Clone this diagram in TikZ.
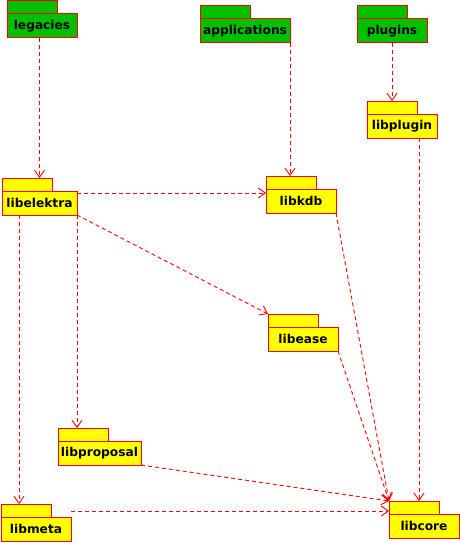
\documentclass[tikz,border=0pt]{standalone}
\usepackage{fontspec}
\setmainfont{DejaVu Sans}
\usetikzlibrary{arrows.meta}
\definecolor{pkggreen}{RGB}{0,192,0}
\definecolor{pkgyellow}{RGB}{255,255,0}
\definecolor{pkgred}{RGB}{255,0,0}
\tikzset{
  tabbox/.style={draw=pkgred, line width=1pt, anchor=north west, minimum width=50pt, minimum height=13pt, inner sep=0pt, outer sep=0pt},
  bodybox/.style={draw=pkgred, line width=1pt, anchor=north west, minimum height=24pt, inner sep=0pt, outer sep=0pt, font=\fontsize{12.2}{14}\selectfont\bfseries},
  dep/.style={draw=pkgred, line width=0.9pt, dash pattern=on 4pt off 3pt, -{Straight Barb[length=7pt,width=10pt]}}
}
\newcommand\pkgnode[6]{%
  \node[tabbox, fill=#5] (#1-tab) at (#2,#3) {};
  \node[bodybox, fill=#5, minimum width=#4pt] (#1) at (#2,#3+13) {#6};
}
\begin{document}
\begin{tikzpicture}[x=1pt,y=-1pt]
\useasboundingbox (0,0) rectangle (460,543);
\pkgnode{legacies}{7}{1}{70}{pkggreen}{legacies}
\pkgnode{applications}{200}{6}{90}{pkggreen}{applications}
\pkgnode{plugins}{357}{6}{70}{pkggreen}{plugins}
\pkgnode{libplugin}{367}{101}{70}{pkgyellow}{libplugin}
\pkgnode{libelektra}{2}{178}{75}{pkgyellow}{libelektra}
\pkgnode{libkdb}{266}{176}{70}{pkgyellow}{libkdb}
\pkgnode{libease}{268}{314}{70}{pkgyellow}{libease}
\pkgnode{libproposal}{58}{428}{83}{pkgyellow}{libproposal}
\pkgnode{libmeta}{1}{504}{70}{pkgyellow}{libmeta}
\pkgnode{libcore}{389}{501}{70}{pkgyellow}{libcore}

\draw[dep] (libelektra.north |- legacies.south) -- (libelektra.north |- libelektra-tab.north);
\draw[dep] (applications.south east) -- (applications.south east |- libkdb-tab.north);
\draw[dep] (plugins.south) -- (plugins.south |- libplugin-tab.north);
\draw[dep] ([xshift=17pt]libplugin.south) -- ([xshift=17pt]libplugin.south |- libcore-tab.north);
\draw[dep] ([yshift=10pt]libelektra.east) -- ([yshift=10pt]libelektra.east -| libkdb.west);
\draw[dep] (libelektra.south east) -- (libease-tab.north west);
\draw[dep] (libelektra.south east) -- (libelektra.south east |- libproposal-tab.north);
\draw[dep] ([xshift=17pt]libelektra.south west) -- ([xshift=17pt]libelektra.south west |- libmeta-tab.north);
\draw[dep] (libkdb.south east) -- (libcore-tab.north west);
\draw[dep] (libease.south east) -- (libcore-tab.north west);
\draw[dep] (libproposal.south east) -- (libcore-tab.north west);
\draw[dep] ([yshift=18pt]libmeta.east) -- ([yshift=18pt]libmeta.east -| libcore-tab.west);
\end{tikzpicture}
\end{document}
